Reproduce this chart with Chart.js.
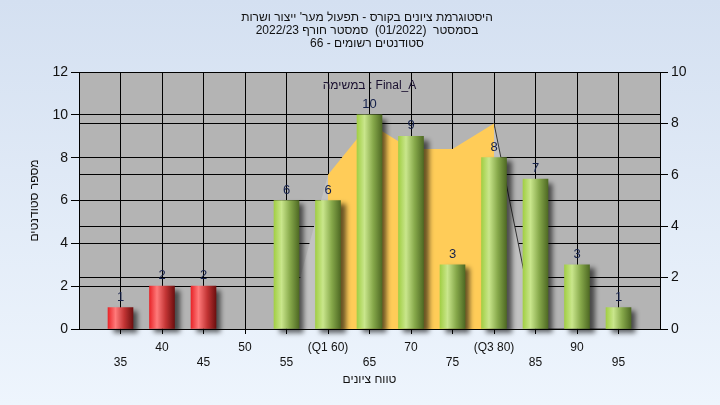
<!DOCTYPE html>
<html>
<head>
<meta charset="utf-8">
<script src="https://cdn.jsdelivr.net/npm/chart.js@4.4.0/dist/chart.umd.min.js"></script>
<style>
  html, body { margin: 0; padding: 0; background: #e2ebf7; }
  canvas { display: block; }
</style>
</head>
<body>
<canvas id="chart" width="720" height="405"></canvas>
<script>
// histogram: grade bucket -> number of students
const grades = [35, 40, 45, 50, 55, 60, 65, 70, 75, 80, 85, 90, 95];
const students = [1, 2, 2, 0, 6, 6, 10, 9, 3, 8, 7, 3, 1];
const passGrade = 55;

// distribution curve (right axis), split into IQR part and tails
const iqrGrades = [60, 65, 70, 75, 80];
const iqrValues = [6, 8, 7, 7, 8];
const lowTailGrades = [55, 60];
const lowTailValues = [0, 6];
const highTailGrades = [80, 85, 90, 95];
const highTailValues = [8, 0, 0, 0];

const specialTicks = { 60: '(Q1 60)', 80: '(Q3 80)' };
const leftTicks = [0, 2, 4, 6, 8, 10, 12];
const rightTicks = [0, 2, 4, 6, 8, 10];

const titleLines = [
  "היסטוגרמת ציונים בקורס - תפעול מער' ייצור ושרות",
  "בסמסטר  (01/2022)  סמסטר חורף 2022/23",
  "סטודנטים רשומים - 66"
];
const taskText = "במשימה : Final_A";
const xTitle = "טווח ציונים";
const yTitle = "מספר סטודנטים";

const FONT = "'Liberation Sans', Arial, sans-serif";

function pts(xs, ys) {
  return xs.map((x, i) => ({ x: x, y: ys[i] }));
}

function barFill(c) {
  const chart = c.chart;
  if (!chart.chartArea || c.type !== 'data') return '#9c4';
  const x = chart.scales.x.getPixelForValue(c.raw.x);
  const g = chart.ctx.createLinearGradient(x - 12.5, 0, x + 12.5, 0);
  if (c.raw.x < passGrade) {
    g.addColorStop(0, '#e8262a');
    g.addColorStop(0.3, '#ff7a7a');
    g.addColorStop(0.65, '#c23434');
    g.addColorStop(1, '#6e1010');
  } else {
    g.addColorStop(0, '#a2cf45');
    g.addColorStop(0.3, '#c9e68c');
    g.addColorStop(0.65, '#86a84a');
    g.addColorStop(1, '#4f6a24');
  }
  return g;
}

const backdrop = {
  id: 'backdrop',
  beforeDraw(chart) {
    const c = chart.ctx, a = chart.chartArea;
    const g = c.createLinearGradient(0, 0, 0, chart.height);
    g.addColorStop(0, '#d4e0f1');
    g.addColorStop(1, '#eef5fd');
    c.save();
    c.fillStyle = g;
    c.fillRect(0, 0, chart.width, chart.height);
    c.fillStyle = '#b4b4b4';
    c.fillRect(a.left, a.top, a.right - a.left, a.bottom - a.top);
    c.restore();
  }
};

const barShadow = {
  id: 'barShadow',
  beforeDatasetDraw(chart, args) {
    if (args.meta.type !== 'bar') return;
    const c = chart.ctx;
    c.save();
    c.shadowColor = 'rgba(0,0,0,0.6)';
    c.shadowBlur = 5;
    c.shadowOffsetX = 5;
    c.shadowOffsetY = 4;
  },
  afterDatasetDraw(chart, args) {
    if (args.meta.type === 'bar') chart.ctx.restore();
  }
};

const texts = {
  id: 'texts',
  afterDraw(chart) {
    const c = chart.ctx, a = chart.chartArea;
    const cx = (a.left + a.right) / 2;
    c.save();
    c.fillStyle = '#111';
    c.textAlign = 'center';
    c.textBaseline = 'middle';
    c.direction = 'rtl';
    c.font = '12px ' + FONT;
    titleLines.forEach((t, i) => c.fillText(t, 367, 18 + i * 13));
    c.fillText(xTitle, cx, 380);
    c.save();
    c.translate(35, (a.top + a.bottom) / 2);
    c.rotate(-Math.PI / 2);
    c.fillText(yTitle, 0, 0);
    c.restore();
    c.direction = 'ltr';
    c.fillStyle = '#1a1030';
    c.fillText(taskText, cx, 86);

    // value labels over the bars
    const meta = chart.getDatasetMeta(0);
    const shown = chart.data.datasets[0].data;
    c.font = '13px ' + FONT;
    c.fillStyle = '#14204a';
    c.textBaseline = 'bottom';
    meta.data.forEach((bar, i) => {
      c.fillText(String(shown[i].y), bar.x, bar.y - 4);
    });
    c.restore();
  }
};

new Chart(document.getElementById('chart'), {
  type: 'bar',
  data: {
    datasets: [
      {
        label: 'students',
        data: pts(grades, students).filter(p => p.y > 0),
        backgroundColor: barFill,
        borderWidth: 0,
        barThickness: 25,
        yAxisID: 'y',
        order: 1,
        clip: false
      },
      {
        type: 'line',
        label: 'iqr',
        data: pts(iqrGrades, iqrValues),
        yAxisID: 'y2',
        fill: 'origin',
        backgroundColor: '#ffcc58',
        borderWidth: 0,
        pointRadius: 0,
        tension: 0,
        order: 2
      },
      {
        type: 'line',
        label: 'low',
        data: pts(lowTailGrades, lowTailValues),
        yAxisID: 'y2',
        fill: 'origin',
        backgroundColor: '#c2c2c2',
        borderWidth: 0,
        pointRadius: 0,
        tension: 0,
        order: 3
      },
      {
        type: 'line',
        label: 'high',
        data: pts(highTailGrades, highTailValues),
        yAxisID: 'y2',
        fill: 'origin',
        backgroundColor: '#c2c2c2',
        borderColor: '#333',
        borderWidth: 1,
        pointRadius: 0,
        tension: 0,
        order: 3
      }
    ]
  },
  options: {
    responsive: false,
    devicePixelRatio: 1,
    animation: false,
    layout: { padding: { top: 72, left: 0, right: 0, bottom: 0 } },
    plugins: { legend: { display: false }, tooltip: { enabled: false } },
    scales: {
      x: {
        type: 'linear',
        offset: false,
        min: 30,
        max: 100,
        afterBuildTicks: s => { s.ticks = grades.map(v => ({ value: v })); },
        afterFit: s => { s.height = 76; },
        grid: { offset: false, color: '#000', lineWidth: 1, tickLength: 5, tickColor: '#000' },
        border: { color: '#000', width: 1 },
        ticks: {
          autoSkip: false,
          maxRotation: 0,
          padding: 6,
          color: '#111',
          font: { family: FONT, size: 12, lineHeight: 1.25 },
          callback: (v, i) => {
            const t = specialTicks[v] || String(v);
            return i % 2 === 0 ? ['', t] : [t];
          }
        }
      },
      y: {
        position: 'left',
        min: 0,
        max: 12,
        afterBuildTicks: s => { s.ticks = leftTicks.map(v => ({ value: v })); },
        afterFit: s => { s.width = 79; },
        grid: { color: '#000', lineWidth: 1, tickLength: 8, tickColor: '#000' },
        border: { color: '#000', width: 1 },
        ticks: { padding: 3, color: '#111', font: { family: FONT, size: 14 } }
      },
      y2: {
        position: 'right',
        min: 0,
        max: 10,
        afterBuildTicks: s => { s.ticks = rightTicks.map(v => ({ value: v })); },
        afterFit: s => { s.width = 60; },
        grid: { color: '#000', lineWidth: 1, tickLength: 8, tickColor: '#000' },
        border: { color: '#000', width: 1 },
        ticks: { padding: 3, color: '#111', font: { family: FONT, size: 14 } }
      }
    }
  },
  plugins: [backdrop, barShadow, texts]
});
</script>
</body>
</html>
